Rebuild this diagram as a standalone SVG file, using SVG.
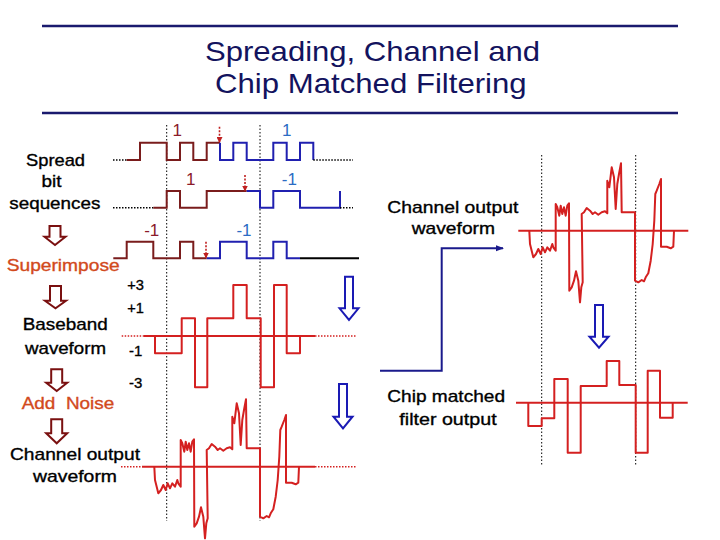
<svg xmlns="http://www.w3.org/2000/svg" width="720" height="540" viewBox="0 0 720 540">
<style>
text{font-family:"Liberation Sans",Arial,sans-serif;}
.title{font-size:28px;fill:#13135E;}
.lbl{font-size:17px;fill:#000;stroke:#000;stroke-width:0.35;}
.org{font-size:17px;fill:#D24A1C;stroke:#D24A1C;stroke-width:0.35;}
.num{font-size:15.5px;fill:#000;stroke:#000;stroke-width:0.35;}
.bn{font-size:17px;fill:#8B1A2A;text-anchor:middle;}
.bl{font-size:17px;fill:#2B6CC4;text-anchor:middle;}
.rule{stroke:#1A1A6E;stroke-width:2.5;fill:none;}
.brown{stroke:#7A1C1C;stroke-width:2;fill:none;}
.blue{stroke:#2020B0;stroke-width:2;fill:none;}
.blk{stroke:#000;stroke-width:2;fill:none;}
.dotk{stroke:#000;stroke-width:1.6;stroke-dasharray:1.5 1.5;fill:none;}
.vdot{stroke:#000;stroke-width:1;stroke-dasharray:1.5 2;fill:none;}
.red{stroke:#D42020;stroke-width:2;fill:none;stroke-linejoin:round;}
.dotr{stroke:#D42020;stroke-width:1.6;stroke-dasharray:1.5 1.5;fill:none;}
.rarr{stroke:#C02020;stroke-width:1.6;stroke-dasharray:2 1.5;fill:none;}
.harr-b{stroke:#7A1010;stroke-width:2;fill:#fff;}
.harr-u{stroke:#1A1AB4;stroke-width:2;fill:#fff;}
.conn{stroke:#1A1A8C;stroke-width:2;fill:none;}
</style>
<defs>
<marker id="redhead" markerWidth="6" markerHeight="6" refX="5" refY="3" orient="auto" markerUnits="userSpaceOnUse">
<path d="M0,0 L6,3 L0,6 Z" fill="#C02020"/>
</marker>
<marker id="bluehead" markerWidth="8" markerHeight="8" refX="7" refY="4" orient="auto" markerUnits="userSpaceOnUse">
<path d="M0,1 L8,4 L0,7 Z" fill="#1A1A8C"/>
</marker>
<path id="noisy" class="red" d="M154.3,466.7 L155,480 L158.3,493.3 L161,490 L163.3,485 L165.7,490 L167.7,483.3 L170,488.3 L172.3,483.3 L175,486.7 L177.3,480 L178.3,483.3 L180.7,486.7 L180.7,440 L182.3,443.3 L184.3,451.7 L185.7,441.7 L187.3,450 L189,443.3 L190.7,451.7 L192.3,441.7 L194,439.3 L194.3,526.7 L196.7,523.3 L199,516.7 L201,507.3 L203.3,516.7 L205,538.3 L206.3,523.3 L207.7,518.3 L206.7,450 L209,448.3 L211.7,444 L215,446.7 L217.7,450 L220,448.3 L223.3,450.7 L226.7,448.3 L230,447.3 L232.3,449.3 L232.3,416.7 L234.3,423.3 L236.7,403.3 L239,413.3 L240.7,445 L242.3,420 L244,410 L246,399.3 L246.7,448.3 L260,448.3 L260,516.7 L263.3,518.3 L266.7,516 L269,517.3 L271,512.7 L273.3,509.3 L275.7,496.7 L277.7,480 L279.3,456.7 L280.3,430 L281.7,426.7 L284.3,420 L286,415 L286,482.7 L291.7,482.7 L295.7,484.3 L298.3,482.7 L299,466.7"/>
</defs>

<g id="title">
<line class="rule" x1="42" y1="26" x2="678" y2="26"/>
<text class="title" x="205" y="61" textLength="335" lengthAdjust="spacingAndGlyphs">Spreading, Channel and</text>
<text class="title" x="215" y="92.7" textLength="311.7" lengthAdjust="spacingAndGlyphs">Chip Matched Filtering</text>
<line class="rule" x1="42" y1="113" x2="678" y2="113"/>
</g>

<g id="labels-left">
<text class="lbl" x="26" y="165.5" textLength="59" lengthAdjust="spacingAndGlyphs">Spread</text>
<text class="lbl" x="41.5" y="187" textLength="20" lengthAdjust="spacingAndGlyphs">bit</text>
<text class="lbl" x="9.3" y="209" textLength="91" lengthAdjust="spacingAndGlyphs">sequences</text>
<text class="org" x="6.7" y="271" textLength="113" lengthAdjust="spacingAndGlyphs">Superimpose</text>
<text class="lbl" x="22.7" y="330" textLength="85" lengthAdjust="spacingAndGlyphs">Baseband</text>
<text class="lbl" x="25" y="354" textLength="81" lengthAdjust="spacingAndGlyphs">waveform</text>
<text class="org" x="21.7" y="409.3" textLength="92.6" lengthAdjust="spacingAndGlyphs" xml:space="preserve">Add  Noise</text>
<text class="lbl" x="10" y="460" textLength="130" lengthAdjust="spacingAndGlyphs">Channel output</text>
<text class="lbl" x="33" y="482" textLength="84" lengthAdjust="spacingAndGlyphs">waveform</text>
</g>

<g id="labels-right">
<text class="lbl" x="387.3" y="212.7" textLength="131" lengthAdjust="spacingAndGlyphs">Channel output</text>
<text class="lbl" x="411.7" y="234" textLength="83.3" lengthAdjust="spacingAndGlyphs">waveform</text>
<text class="lbl" x="387.3" y="401.7" textLength="117.7" lengthAdjust="spacingAndGlyphs">Chip matched</text>
<text class="lbl" x="399.3" y="425" textLength="97.3" lengthAdjust="spacingAndGlyphs">filter output</text>
</g>

<g id="level-labels">
<text class="num" x="127.3" y="290" textLength="16.7" lengthAdjust="spacingAndGlyphs">+3</text>
<text class="num" x="127.3" y="312.7" textLength="16.7" lengthAdjust="spacingAndGlyphs">+1</text>
<text class="num" x="129" y="355.7" textLength="13.3" lengthAdjust="spacingAndGlyphs">-1</text>
<text class="num" x="129" y="388.3" textLength="13.3" lengthAdjust="spacingAndGlyphs">-3</text>
</g>

<g id="time-markers">
<line class="vdot" x1="166.7" y1="125" x2="166.7" y2="521"/>
<line class="vdot" x1="260" y1="125" x2="260" y2="521"/>
<line class="vdot" x1="541.7" y1="155" x2="541.7" y2="466"/>
<line class="vdot" x1="635.7" y1="155" x2="635.7" y2="466"/>
</g>

<g id="seq1">
<line class="dotk" x1="113" y1="160" x2="126.7" y2="160"/>
<path class="brown" d="M126.7,160 H140 V142.7 H166.7 V160 H180 V142.7 H193.3 V160 H206.7 V142.7 H220"/>
<path class="blue" d="M220,142.7 V160 H233.3 V142.7 H246.7 V160 H273.3 V142.7 H286.7 V160 H300 V142.7 H313.3 V160"/>
<line class="dotk" x1="313.3" y1="160" x2="353" y2="160"/>
<text class="bn" x="177.3" y="135.7">1</text>
<text class="bl" x="286.7" y="135.7">1</text>
<line class="rarr" x1="219.5" y1="126.7" x2="219.5" y2="142" marker-end="url(#redhead)"/>
</g>

<g id="seq2">
<line class="dotk" x1="113" y1="207.7" x2="153.3" y2="207.7"/>
<path class="brown" d="M153.3,207.7 H166.7 V191 H180 V207.7 H206.7 V191 H246.7"/>
<path class="blue" d="M246.7,191 H260 V207.7 H273.3 V191 H300 V207.7 H340 V191"/>
<line class="dotk" x1="340" y1="207.7" x2="353" y2="207.7"/>
<text class="bn" x="190.7" y="185">1</text>
<text class="bl" x="289.3" y="185">-1</text>
<line class="rarr" x1="245" y1="175" x2="245" y2="190.5" marker-end="url(#redhead)"/>
</g>

<g id="seq3">
<path class="brown" d="M113.3,258.3 H126.7 V241.7 H153.3 V258.3 H180 V241.7 H193.3 V258.3 H206.7"/>
<path class="blue" d="M206.7,258.3 H220 V241.7 H246.7 V258.3 H273.3 V241.7 H286.7 V258.3 H300"/>
<line class="blk" x1="300" y1="258.3" x2="359" y2="258.3"/>
<text class="bn" x="151.7" y="236">-1</text>
<text class="bl" x="244" y="236">-1</text>
<line class="rarr" x1="206" y1="241.7" x2="206" y2="257.5" marker-end="url(#redhead)"/>
</g>

<g id="baseband">
<line class="dotr" x1="121.7" y1="336" x2="143.3" y2="336"/>
<line class="red" x1="143.3" y1="336" x2="315" y2="336"/>
<line class="dotr" x1="315" y1="336" x2="356.7" y2="336"/>
<path class="red" d="M155,336 V353.3 H181.7 V318.3 H195 V387.3 H207.3 V318.3 H233.3 V285 H246.7 V318.3 H260.7 V387.3 H274 V285 H286.7 V353.3 H300 V336"/>
</g>

<g id="channel-left">
<line class="dotr" x1="121" y1="466.7" x2="142" y2="466.7"/>
<line class="red" x1="142" y1="466.7" x2="315" y2="466.7"/>
<line class="dotr" x1="315" y1="466.7" x2="356.7" y2="466.7"/>
<use href="#noisy"/>
</g>

<g id="channel-right">
<line class="red" x1="518.3" y1="230.7" x2="688.3" y2="230.7"/>
<use href="#noisy" transform="translate(375,-236)"/>
</g>

<g id="matched-output">
<line class="red" x1="516" y1="402.7" x2="687.7" y2="402.7"/>
<path class="red" d="M528.3,402.7 V426 H541.7 V418.3 H554.3 V379 H567.7 V452.7 H580.7 V386 H606.7 V361 H619.3 V385 H635.7 V452.7 H647.7 V370.7 H660 V417.7 H672.7 V402.7"/>
</g>

<g id="step-arrows">
<path class="harr-b" d="M49.5,226 H60.5 V236.7 H65.5 L55,245 L44.5,236.7 H49.5 Z"/>
<path class="harr-b" d="M50,286 H61 V300.7 H66 L55.5,308.3 L45,300.7 H50 Z"/>
<path class="harr-b" d="M51.2,369.3 H62.2 V382.7 H67.2 L56.7,391 L46.2,382.7 H51.2 Z"/>
<path class="harr-b" d="M51.2,419.3 H62.2 V433.3 H67.2 L56.7,443.3 L46.2,433.3 H51.2 Z"/>
<path class="harr-u" d="M345,276.7 H353 V308.3 H358.5 L349,320 L339.5,308.3 H345 Z"/>
<path class="harr-u" d="M339,384 H347 V416.7 H352.5 L343,428.3 L333.5,416.7 H339 Z"/>
<path class="harr-u" d="M595,305 H603 V336.7 H608.5 L599,347.7 L589.5,336.7 H595 Z"/>
</g>

<g id="connectors">
<path class="conn" d="M380,370.7 H441.7 V248.3 H503" marker-end="url(#bluehead)"/>
</g>
</svg>
